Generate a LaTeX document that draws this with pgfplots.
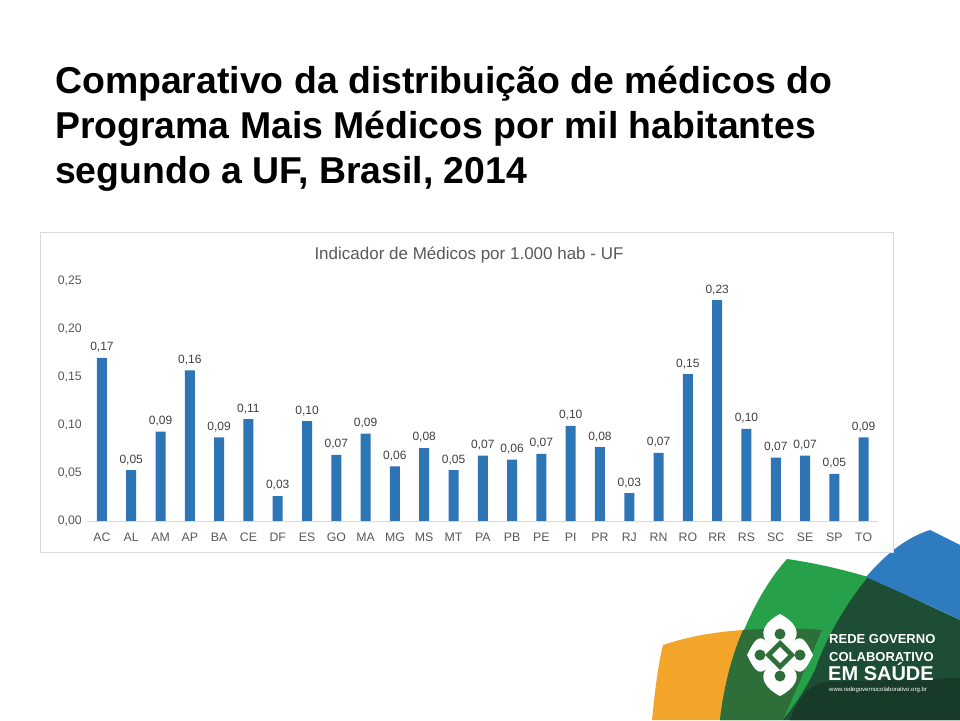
\documentclass[border=0pt]{standalone}
\usepackage{pgfplots}
\pgfplotsset{compat=1.18}
\usepackage{pgfplotstable}
\usepackage{fontspec}
\setmainfont{Liberation Sans}

\definecolor{barblue}{HTML}{2E75B6}
\definecolor{txtgray}{HTML}{595959}
\definecolor{lblgray}{HTML}{404040}
\definecolor{boxgray}{HTML}{D9D9D9}
\definecolor{logoorange}{HTML}{F3A52A}
\definecolor{logogreen}{HTML}{27A04A}
\definecolor{logomid}{HTML}{2E6E38}
\definecolor{logodark}{HTML}{1D4E35}
\definecolor{logodarker}{HTML}{183A28}
\definecolor{logoblue}{HTML}{2F7BBF}

% medicos por 1.000 hab, por UF
\pgfplotstableread{
x  val
0  0.170
1  0.053
2  0.093
3  0.157
4  0.087
5  0.106
6  0.026
7  0.104
8  0.069
9  0.091
10 0.057
11 0.076
12 0.053
13 0.068
14 0.064
15 0.070
16 0.099
17 0.077
18 0.029
19 0.071
20 0.153
21 0.230
22 0.096
23 0.066
24 0.068
25 0.049
26 0.087
}\ufdata

\begin{document}
\begin{tikzpicture}[x=1pt,y=1pt]
\path[fill=white,use as bounding box] (0,0) rectangle (960,720);

% logo
\fill[logoorange] (652,0) .. controls (655,30) and (658,55) .. (663,75) .. controls (690,84) and (715,88) .. (743,90) -- (760,90) -- (760,0) -- cycle;
\fill[logogreen] (720,0) .. controls (725,50) and (750,120) .. (787,161) .. controls (815,157) and (845,150) .. (868,143) -- (960,100) -- (960,0) -- cycle;
\fill[logomid] (720,0) .. controls (724,35) and (732,65) .. (743,90) .. controls (775,92) and (800,92) .. (822,90) -- (783,0) -- cycle;
\fill[logodark] (868,143) .. controls (845,115) and (825,80) .. (815,50) .. controls (805,30) and (795,15) .. (783,0) -- (960,0) -- (960,100) -- cycle;
\fill[logodarker] (790,0) .. controls (800,25) and (810,35) .. (825,38) -- (960,42) -- (960,0) -- cycle;
\fill[logoblue] (866,143) .. controls (885,165) and (905,182) .. (930,190) .. controls (940,185) and (950,180) .. (960,175) -- (960,100) .. controls (930,115) and (895,130) .. (866,143) -- cycle;
\foreach \a/\L in {0/41,90/33,180/41,270/33}
  \fill[white,shift={(780,65)},rotate=\a] (-10,10) .. controls (-24,21) and (-14,\L-7) .. (0,\L) .. controls (14,\L-7) and (24,21) .. (10,10) -- (0,0) -- cycle;
\fill[logomid] (765,65) -- (780,80) -- (795,65) -- (780,50) -- cycle;
\fill[white] (772,65) -- (780,73) -- (788,65) -- (780,57) -- cycle;
\foreach \dx/\dy in {-20/0,20/0,0/21,0/-21} \fill[logomid] (780+\dx,65+\dy) circle (5.5);
\node[anchor=base west,inner sep=0,text=white,font=\fontsize{13}{13}\selectfont\bfseries] at (829,77) {REDE GOVERNO};
\node[anchor=base west,inner sep=0,text=white,font=\fontsize{13}{13}\selectfont\bfseries] at (829,59) {COLABORATIVO};
\node[anchor=base west,inner sep=0,text=white,font=\fontsize{20}{20}\selectfont\bfseries] at (828,40) {EM SAÚDE};
\node[anchor=base west,inner sep=0,text=white,font=\fontsize{6}{6}\selectfont] at (829,29) {www.redegovernocolaborativo.org.br};

% titulo
\node[anchor=base west,inner sep=0,font=\fontsize{37.4}{45}\selectfont\bfseries] at (55,626) {Comparativo da distribuição de médicos do};
\node[anchor=base west,inner sep=0,font=\fontsize{37.4}{45}\selectfont\bfseries] at (55,581) {Programa Mais Médicos por mil habitantes};
\node[anchor=base west,inner sep=0,font=\fontsize{37.4}{45}\selectfont\bfseries] at (55,536) {segundo a UF, Brasil, 2014};

% caixa do grafico
\draw[boxgray,fill=white,line width=0.8] (40,168) rectangle (893,488);
\node[text=txtgray,font=\fontsize{17}{17}\selectfont] at (469,465) {Indicador de Médicos por 1.000 hab - UF};

\begin{axis}[
    at={(87.3pt,199pt)}, anchor=south west,
    scale only axis, width=791pt, height=240pt,
    ybar, bar width=10pt,
    xmin=-0.5, xmax=26.5,
    ymin=0, ymax=0.25,
    xtick=data,
    xticklabels={AC,AL,AM,AP,BA,CE,DF,ES,GO,MA,MG,MS,MT,PA,PB,PE,PI,PR,RJ,RN,RO,RR,RS,SC,SE,SP,TO},
    ytick={0,0.05,0.1,0.15,0.2,0.25},
    scaled y ticks=false,
    yticklabel style={/pgf/number format/fixed,/pgf/number format/fixed zerofill,/pgf/number format/precision=2,/pgf/number format/use comma,/pgf/number format/assume math mode=true},
    tick label style={text=txtgray,font=\fontsize{12.3}{12.3}\selectfont},
    x tick label style={yshift=-8pt,text height=9pt,text depth=0pt},
    y tick label style={xshift=-2pt},
    major tick length=0pt,
    axis x line=bottom, axis y line=left,
    x axis line style={-,draw=boxgray,line width=0.8pt},
    y axis line style={draw=none},
    nodes near coords={\pgfmathprintnumber[fixed,fixed zerofill,precision=2,use comma,assume math mode=true]{\pgfplotspointmeta}},
    every node near coord/.append style={text=lblgray,font=\fontsize{12}{12}\selectfont,yshift=2pt},
    clip=false,
]
\addplot[fill=barblue,draw=none] table[x=x,y=val] {\ufdata};
\end{axis}
\end{tikzpicture}
\end{document}
